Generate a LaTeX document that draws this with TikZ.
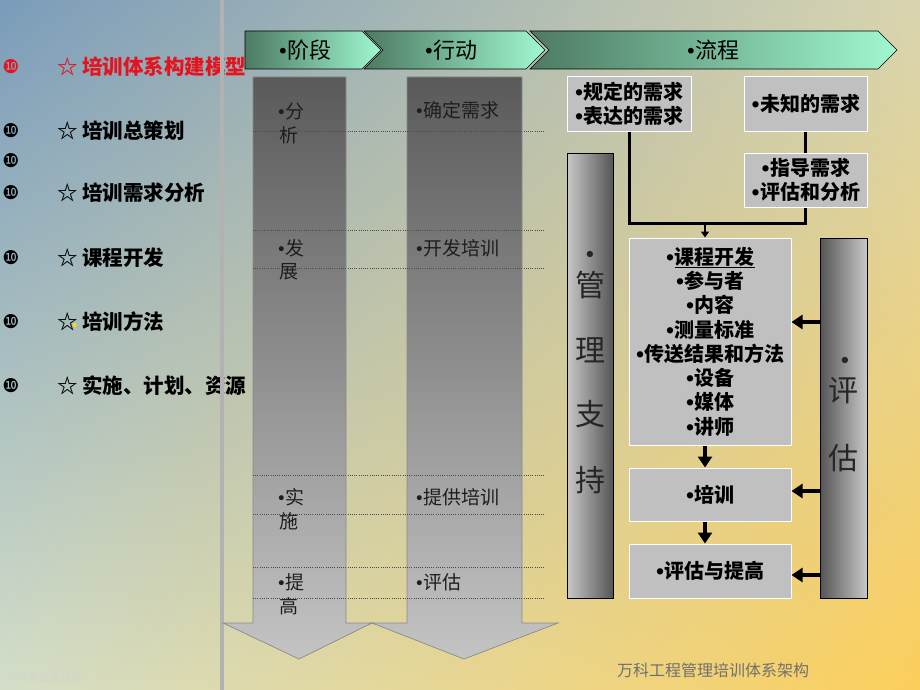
\documentclass[tikz,border=0pt]{standalone}
\usepackage{fontspec}
\setmainfont{Noto Sans CJK SC}
\newfontfamily\dingfont{DejaVu Sans}
\usetikzlibrary{arrows.meta,shadings}
\definecolor{bgUL}{HTML}{7A9CBA}
\definecolor{bgUR}{HTML}{D9D5B0}
\definecolor{bgLL}{HTML}{D4DEC8}
\definecolor{bgLR}{HTML}{FCCF5C}
\definecolor{vline}{HTML}{B2B2B2}
\definecolor{chevDark}{HTML}{4D7A62}
\definecolor{chevLight}{HTML}{A0F8D0}
\definecolor{colTop}{HTML}{5A5A5A}
\definecolor{colBot}{HTML}{C4C4C4}
\definecolor{colEdge}{HTML}{8A8A8A}
\definecolor{boxgrey}{HTML}{C0C0C0}
\definecolor{barLight}{HTML}{C8C8C8}
\definecolor{barDark}{HTML}{555555}
\definecolor{listred}{RGB}{228,20,30}
\definecolor{txtdark}{HTML}{1E1E1E}
\definecolor{foot}{HTML}{707070}
\newcommand\fsz[2]{\fontsize{#1}{#2}\selectfont}
\newcommand\bul{\makebox[0.45em][c]{\scalebox{0.9}{\dingfont •}}}
\tikzset{
  listnum/.style={inner sep=0pt, font=\dingfont\fsz{19}{22}},
  listtxt/.style={inner sep=0pt, anchor=west, font=\fsz{20.5}{24}\bfseries},
  headtxt/.style={inner sep=0pt, font=\fsz{22}{26}},
  coltxt/.style={inner sep=0pt, anchor=west, text=txtdark, font=\fsz{19}{22}},
  chev/.style={draw=black, line width=0.6pt, left color=chevDark, right color=chevLight},
  greycol/.style={draw=colEdge, line width=0.7pt, top color=colTop, bottom color=colBot},
  sepline/.style={draw=black!70, line width=0.7pt, dash pattern=on 1pt off 1.2pt},
  box/.style={draw=white, line width=1pt, fill=boxgrey, inner sep=0pt, align=center, font=\fsz{20}{24.3}\bfseries},
  lbar/.style={draw=black, line width=0.8pt, left color=barLight, right color=barDark, inner sep=0pt, minimum width=46pt},
  rbar/.style={draw=black, line width=0.8pt, left color=barDark, right color=barLight, inner sep=0pt, minimum width=47pt},
  bartxt/.style={inner sep=0pt, text=black!85, font=\fsz{30}{34}},
  barbul/.style={inner sep=0pt, text=black!85, font=\fsz{24}{26}},
  thickline/.style={line width=3pt},
  smallarrow/.style={line width=2pt, -{Triangle[length=6pt,width=8pt]}},
  bigarrow/.style={line width=4pt, -{Triangle[length=11pt,width=14pt]}},
}
\begin{document}
\begin{tikzpicture}[x=1pt,y=-1pt]
\useasboundingbox (0,0) rectangle (920,690);
\shade[upper left=bgUL, upper right=bgUR, lower left=bgLL, lower right=bgLR] (0,0) rectangle (920,690);

% left list
\node[listnum, text=listred] (n1) at (11,67) {❿};
\node[listtxt, text=listred] (t1) at (57,67) {☆ 培训体系构建模型};
\node[listnum] (n2) at (11,131) {❿};
\node[listtxt] (t2) at (57,131) {☆ 培训总策划};
\node[listnum] (n3) at (11,161) {❿};
\node[listnum] (n4) at (11,193) {❿};
\node[listtxt] (t4) at (57,193) {☆ 培训需求分析};
\node[listnum] (n5) at (11,258) {❿};
\node[listtxt] (t5) at (57,258) {☆ 课程开发};
\node[listnum] (n6) at (11,322) {❿};
\node[listtxt] (t6) at (57,322) {☆ 培训方法};
\fill[yellow!80!orange] (74.5,325) circle (2pt);
\node[listnum] (n7) at (11,386) {❿};
\node[listtxt] (t7) at (57,386) {☆ 实施、计划、资源};

% vertical divider
\draw[line width=3.5pt, vline] (222,0) -- (222,690);

% header chevrons
\shade[chev] (245,31) -- (362,31) -- (381,50) -- (362,69) -- (245,69) -- cycle;
\shade[chev] (364,31) -- (526,31) -- (545,50) -- (526,69) -- (364,69) -- (383,50) -- cycle;
\shade[chev] (530,31) -- (878,31) -- (897,50) -- (878,69) -- (530,69) -- (549,50) -- cycle;
\node[headtxt] (h1) at (305,50) {\bul 阶段};
\node[headtxt] (h2) at (451,50) {\bul 行动};
\node[headtxt] (h3) at (713,50) {\bul 流程};

% grey down arrows
\shade[greycol] (253,77) -- (346,77) -- (346,623) -- (372,623) -- (299,659) -- (223,623) -- (253,623) -- cycle;
\shade[greycol] (407,77) -- (522,77) -- (522,623) -- (558,623) -- (464,659) -- (372,623) -- (407,623) -- cycle;
\foreach \yy in {131,230,268,475,514,567,598}
  \draw[sepline] (253,\yy) -- (545,\yy);

\node[coltxt] (a1) at (277,111) {\bul 分};
\node[coltxt] (a1b) at (279,135) {析};
\node[coltxt] (a2) at (277,248) {\bul 发};
\node[coltxt] (a2b) at (279,272) {展};
\node[coltxt] (a3) at (277,497) {\bul 实};
\node[coltxt] (a3b) at (279,521) {施};
\node[coltxt] (a4) at (277,582) {\bul 提};
\node[coltxt] (a4b) at (279,606) {高};
\node[coltxt] (b1) at (415,110) {\bul 确定需求};
\node[coltxt] (b2) at (415,248) {\bul 开发培训};
\node[coltxt] (b3) at (415,497) {\bul 提供培训};
\node[coltxt] (b4) at (415,582) {\bul 评估};

% right flowchart
\node[box, minimum width=124pt, minimum height=54pt] (A) at (629,104) {\bul 规定的需求\\\bul 表达的需求};
\node[box, minimum width=123pt, minimum height=54pt] (B) at (805.5,104) {\bul 未知的需求};
\node[box, minimum width=123pt, minimum height=54pt] (C) at (805.5,180) {\bul 指导需求\\\bul 评估和分析};
\node[box, minimum width=162pt, minimum height=207pt] (D) at (710,341.5)
  {\bul\underline{课程开发}\\\bul 参与者\\\bul 内容\\\bul 测量标准\\\bul 传送结果和方法\\\bul 设备\\\bul 媒体\\\bul 讲师};
\node[box, minimum width=162pt, minimum height=53pt] (E) at (710,494.5) {\bul 培训};
\node[box, minimum width=162pt, minimum height=54pt] (F) at (710,571) {\bul 评估与提高};

\node[lbar, minimum height=445pt] (L) at (590,375.5) {};
\node[rbar, minimum height=360pt] (R) at (843.5,418) {};
\node[barbul] (Lb) at (590,257) {\bul};
\node[bartxt] (L1) at (590,285) {管};
\node[bartxt] (L2) at (590,350) {理};
\node[bartxt] (L3) at (590,414) {支};
\node[bartxt] (L4) at (590,480) {持};
\node[barbul] (Rb) at (845,363) {\bul};
\node[bartxt] (R1) at (843.5,391) {评};
\node[bartxt] (R2) at (843.5,458) {估};

\coordinate (jn) at (705,223);
\draw[thickline] (A.south) |- (C.south |- jn) -- (C.south);
\draw[thickline] (B.south) -- (C.north);
\draw[smallarrow] (jn) -- (jn |- D.north);
\draw[bigarrow] (D.south -| jn) -- (E.north -| jn);
\draw[bigarrow] (E.south -| jn) -- (F.north -| jn);
\draw[bigarrow] (R.west |- 0,322) -- (D.east |- 0,322);
\draw[bigarrow] (R.west |- 0,491) -- (E.east |- 0,491);
\draw[bigarrow] (R.west |- 0,575) -- (F.east |- 0,575);

% footer
\node[inner sep=0pt, text=foot, font=\fsz{16}{20}] (ft) at (713,670) {万科工程管理培训体系架构};
\node[inner sep=0pt, text=black!18, opacity=0.6, font=\fsz{11}{13}] (wm) at (45,677) {PPT文档演模板};
\end{tikzpicture}
\end{document}
